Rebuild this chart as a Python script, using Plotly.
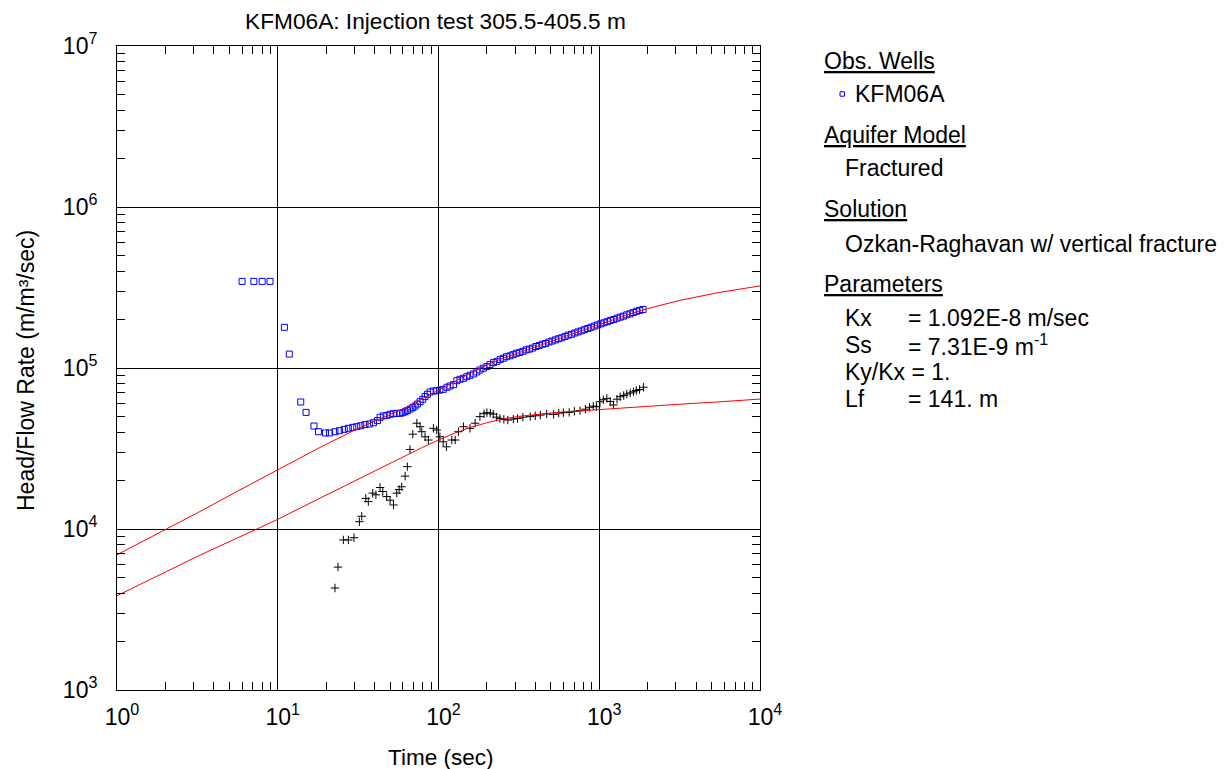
import plotly.graph_objects as go

# ---- observed head / flow rate at KFM06A ----
obs_time = [6.0, 7.1, 8.0, 8.95, 11.0, 11.8, 13.9, 15.0, 16.8, 17.9, 19.8, 21.0,
            22.7, 24.2, 25.9, 27.5, 29.3, 31.0, 32.8, 34.9, 37.2, 39.4, 41.7, 43.3,
            45.4, 47.7, 50.0, 52.4, 55.0, 57.7, 60.0, 62.0, 64.1, 66.6, 69.2, 71.5,
            73.9, 76.8, 79.8, 82.5, 85.4, 88.7, 93.0, 97.5, 102, 107, 113, 118, 124,
            130, 136, 143, 150, 157, 165, 173, 181, 190, 200, 209, 220, 231, 242,
            253, 265, 278, 291, 305, 320, 335, 351, 368, 385, 404, 423, 443, 464,
            486, 509, 533, 559, 585, 613, 642, 673, 705, 738, 773, 810, 849, 889,
            931, 976, 1022, 1071, 1122, 1175, 1231, 1290, 1351, 1415, 1483, 1553,
            1627, 1705, 1786, 1871]
obs_head = [345000, 345000, 345000, 345000, 179000, 122000, 61500, 53000, 43600, 40200,
            39500, 39500,
            40200, 40800, 41600, 42200, 42800, 43200, 43800, 44500, 44900, 45700, 47100,
            49400, 50400, 50800, 51600, 52000, 52300, 52300, 52800, 53500, 54400, 55600,
            56700, 58000, 59700, 61800, 63900, 66400, 68700, 71000, 72000, 72300, 72900,
            73700, 75900, 77300, 78800, 83400, 85100, 86300, 88300, 90100, 91800, 94500,
            97200, 99600, 102000, 105000, 108000, 110000, 113000,
            115000, 117500, 119000, 121000, 123500, 125000, 127000, 129500, 131000,
            133000, 136000, 138000, 140500, 142000, 145000, 147000, 149500, 152000,
            154000, 157000, 160000, 162000, 165000, 167500, 170000, 173000, 176000,
            179000, 182000, 185000, 188000, 191000, 194000, 197500, 200000, 204000,
            207000, 210000, 214000, 217000, 221000, 225000, 228000, 231000]

# ---- derivative of the observed response ----
deriv_time = [22.7, 23.7, 25.6, 27.5, 29.8, 32.2, 33.3, 35.3, 36.6, 39.0, 40.8, 43.3,
              45.0, 47.6, 50.0, 52.5, 55.0, 56.9, 59.0, 62.0, 64.0, 66.5, 69.2, 73.3,
              76.8, 78.7, 82.5, 86.5, 93.0, 97.5, 102, 107, 112, 121, 127, 133, 143,
              157, 169, 181, 192, 200, 210, 219, 230, 241, 255, 270, 292, 310, 335,
              372, 400, 430, 471, 520, 560, 598, 650, 700, 759, 820, 870, 918, 960,
              1010, 1060, 1114, 1170, 1225, 1290, 1349, 1420, 1484, 1560, 1632, 1700,
              1780, 1883]
deriv_value = [4300, 5800, 8550, 8550, 8830, 11100, 12000, 15500, 14800, 16700, 16300,
               18100, 17100, 15900, 15100, 14100, 16700, 17600, 18300, 21300, 24400,
               31200, 38800, 45400, 43200, 40200, 37400, 35700, 42200, 41200, 37400,
               34800, 32400, 35700, 35700, 40200, 43200, 42200, 45400, 49900, 52000,
               52800, 52500, 51700, 49500, 48600, 48000, 47500, 48200, 48600, 49500,
               49900, 50500, 51000, 51800, 51500, 52500, 52800, 53000, 53800, 54300,
               55500, 57000, 58000, 57500, 61700, 63500, 64700, 62000, 58900, 64000,
               66300, 67500, 68900, 70000, 71200, 72500, 73500, 75900]

# ---- Ozkan-Raghavan vertical fracture solution ----
fit_time = [1, 1.778, 3.162, 5.623, 10, 17.78, 31.62, 39.81, 50.12, 63.10, 79.43, 100,
            125.9, 158.5, 199.5, 251.2, 316.2, 562.3, 1000, 1778, 3162, 5623, 10000]
fit_head = [6920, 9330, 12590, 17180, 23390, 31620, 42170, 46770, 51290, 56890, 64570,
            72440, 82220, 93330, 104700, 114800, 124500, 153100, 186200, 226500, 263000,
            295100, 323600]
fit_deriv = [3850, 5130, 6760, 8810, 11480, 15310, 20420, 22910, 25700, 28840, 32140,
             35730, 39360, 42850, 45710, 48190, 50120, 53090, 55340, 57540, 59570, 61660,
             64120]

x_tick_vals = [1, 10, 100, 1000, 10000]
x_tick_text = ["10<sup>0</sup>", "10<sup>1</sup>", "10<sup>2</sup>", "10<sup>3</sup>",
               "10<sup>4</sup>"]
y_tick_vals = [1e3, 1e4, 1e5, 1e6, 1e7]
y_tick_text = ["10<sup>3</sup>", "10<sup>4</sup>", "10<sup>5</sup>", "10<sup>6</sup>",
               "10<sup>7</sup>"]

FONT = "Liberation Sans, Arial, sans-serif"
W, H = 1226, 769
L, R, T, B = 117, 760, 46, 690


def px(x):
    return (x - L) / (R - L)


def py(y):
    return (B - y) / (B - T)


def minor_vals(lo, hi):
    vals = []
    for e in range(lo, hi):
        for m in range(2, 10):
            vals.append(m * 10 ** e)
    return vals


fig = go.Figure()

fig.add_trace(go.Scatter(
    x=obs_time, y=obs_head, mode="markers", name="KFM06A",
    marker=dict(symbol="square-open", size=6, color="#0000ff",
                line=dict(width=1, color="#0000ff")),
))
fig.add_trace(go.Scatter(
    x=deriv_time, y=deriv_value, mode="markers", name="derivative",
    marker=dict(symbol="cross-thin-open", size=6, color="#000000",
                line=dict(width=1, color="#000000")),
))
fig.add_trace(go.Scatter(
    x=fit_time, y=fit_head, mode="lines", name="solution",
    line=dict(color="#ff0000", width=1),
))
fig.add_trace(go.Scatter(
    x=fit_time, y=fit_deriv, mode="lines", name="solution derivative",
    line=dict(color="#ff0000", width=1),
))

axis_common = dict(
    type="log",
    showline=True, linecolor="#000000", linewidth=1, mirror="allticks",
    ticks="inside", ticklen=8, tickcolor="#000000", tickwidth=1,
    showgrid=True, gridcolor="#000000", gridwidth=1,
    zeroline=False,
    tickfont=dict(family=FONT, size=23, color="#000000"),
    tickmode="array",
)

fig.update_xaxes(
    **axis_common, range=[0, 4],
    tickvals=x_tick_vals, ticktext=x_tick_text,
    ticklabelstandoff=6, ticklabelshift=5,
    minor=dict(tickmode="array", tickvals=minor_vals(0, 4), ticks="inside",
               ticklen=8, tickcolor="#000000", showgrid=False),
)
fig.update_yaxes(
    **axis_common, range=[3, 7],
    tickvals=y_tick_vals, ticktext=y_tick_text,
    ticklabelstandoff=14,
    minor=dict(tickmode="array", tickvals=minor_vals(3, 7), ticks="inside",
               ticklen=8, tickcolor="#000000", showgrid=False),
)

ann = []


def text(x, y, s, size=23, anchor="left"):
    ann.append(dict(x=px(x), y=py(y), xref="paper", yref="paper", text=s,
                    showarrow=False, xanchor=anchor, yanchor="middle",
                    font=dict(family=FONT, size=size, color="#000000")))


# titles
text(435, 21, "KFM06A: Injection test 305.5-405.5 m", size=22.7, anchor="center")
text(440, 757, "Time (sec)", size=22.5, anchor="center")
ann.append(dict(x=px(26), y=py(371), xref="paper", yref="paper",
                text="Head/Flow Rate (m/m³/sec)", textangle=-90, showarrow=False,
                xanchor="center", yanchor="middle",
                font=dict(family=FONT, size=23, color="#000000")))

# legend / info panel
text(822, 61, "<u>Obs. Wells</u>")
text(853, 94, "KFM06A")
text(822, 135, "<u>Aquifer Model</u>")
text(843, 168, "Fractured")
text(822, 209, "<u>Solution</u>")
text(843, 244, "Ozkan-Raghavan w/ vertical fracture")
text(822, 284, "<u>Parameters</u>")
text(843, 318, "Kx")
text(906, 318, "= 1.092E-8 m/sec")
text(843, 345, "Ss")
text(906, 345, "= 7.31E-9 m<sup>-1</sup>")
text(843, 372, "Ky/Kx = 1.")
text(843, 399, "Lf")
text(906, 399, "= 141. m")

fig.add_shape(type="rect", xref="paper", yref="paper",
              x0=px(840), x1=px(844.5), y0=py(96.2), y1=py(91.8),
              line=dict(color="#0000ff", width=1), fillcolor="rgba(0,0,0,0)")

fig.update_layout(
    width=W, height=H,
    margin=dict(l=L, r=W - R, t=T, b=H - B, pad=0),
    paper_bgcolor="#ffffff", plot_bgcolor="#ffffff",
    showlegend=False,
    annotations=ann,
    font=dict(family=FONT, color="#000000"),
)

fig.write_html("out.html")
